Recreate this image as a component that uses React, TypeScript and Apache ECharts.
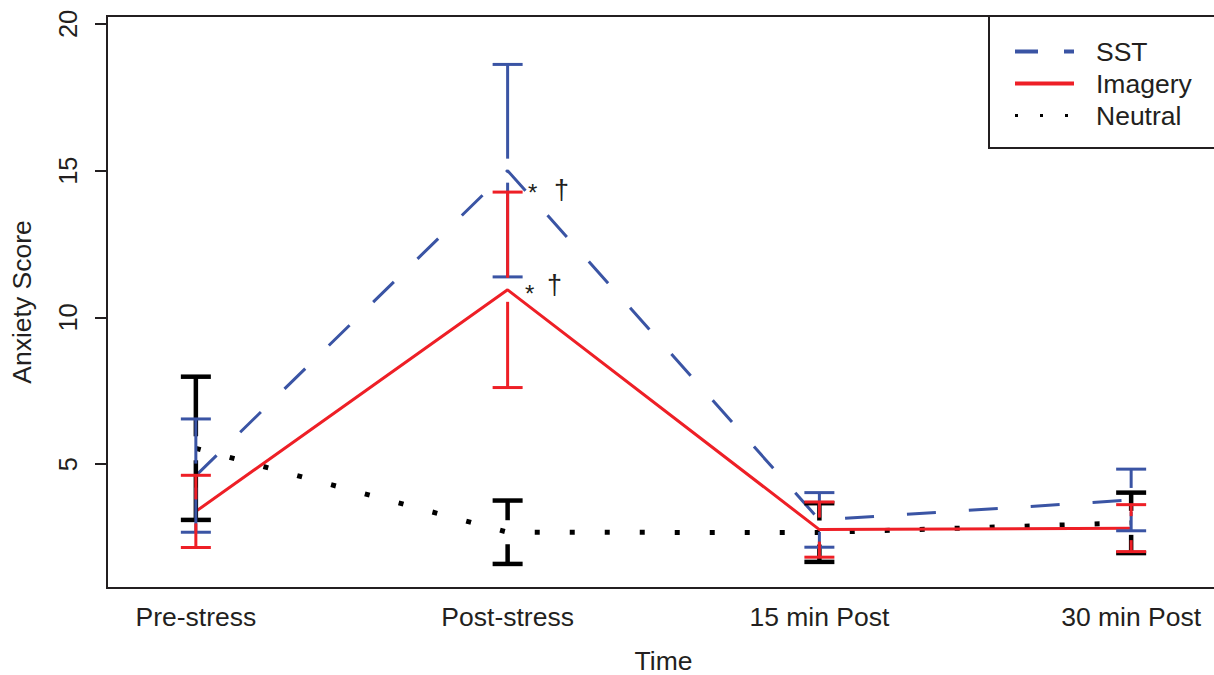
import React, { useEffect, useRef } from "react";
import * as echarts from "echarts";

const categories = ["Pre-stress", "Post-stress", "15 min Post", "30 min Post"];
const seriesNames = ["SST", "Imagery", "Neutral"];
const sstMean = [4.61, 15.0, 3.1, 3.78];
const sstSE = [1.93, 3.62, 0.93, 1.05];
const imageryMean = [3.39, 10.94, 2.77, 2.82];
const imagerySE = [1.23, 3.33, 0.94, 0.8];
const neutralMean = [5.54, 2.68, 2.67, 3.0];
const neutralSE = [2.44, 1.08, 1.0, 1.03];
const yTicks = [5, 10, 15, 20];
const xTicks = [1, 2, 3, 4];
const annotationMarks = ["*", "\u2020"];

const FONT = "'Liberation Sans', Arial, Helvetica, sans-serif";
const BLUE = "#3A54A4";
const RED = "#EE1F26";
const BLACK = "#000000";
const TEXT = "#231F20";

function errorBars(name: string, means: number[], ses: number[], color: string, width: number, z: number) {
  return {
    type: "custom",
    name: name + " SE",
    z,
    silent: true,
    encode: { x: 0, y: 1 },
    data: means.map((m, i) => [xTicks[i], m, ses[i]]),
    renderItem: (params: any, api: any) => {
      const x = api.value(0);
      const m = api.value(1);
      const se = api.value(2);
      const pm = api.coord([x, m]);
      const ph = api.coord([x, m + se]);
      const pl = api.coord([x, m - se]);
      const gap = 12;
      const half = 15;
      const style = { stroke: color, lineWidth: width, fill: null, lineCap: "butt" };
      const children: any[] = [];
      if (pm[1] - gap > ph[1]) {
        children.push({ type: "line", shape: { x1: pm[0], y1: pm[1] - gap, x2: pm[0], y2: ph[1] }, style });
      }
      if (pm[1] + gap < pl[1]) {
        children.push({ type: "line", shape: { x1: pm[0], y1: pm[1] + gap, x2: pm[0], y2: pl[1] }, style });
      }
      children.push({ type: "line", shape: { x1: pm[0] - half, y1: ph[1], x2: pm[0] + half, y2: ph[1] }, style });
      children.push({ type: "line", shape: { x1: pm[0] - half, y1: pl[1], x2: pm[0] + half, y2: pl[1] }, style });
      return { type: "group", children };
    },
  };
}

export default function App() {
  const ref = useRef<HTMLDivElement>(null);
  useEffect(() => {
    if (!ref.current) return;
    const chart = echarts.init(ref.current, null, { renderer: "svg" });
    const toPairs = (arr: number[]) => arr.map((v, i) => [xTicks[i], v]);
    const hiddenSymbol = { color: "transparent", borderColor: "transparent", borderWidth: 0, opacity: 0 };
    const option: any = {
      animation: false,
      backgroundColor: "#ffffff",
      textStyle: { fontFamily: FONT },
      grid: {
        left: 107,
        top: 16,
        width: 1113,
        height: 572,
        outerBoundsMode: "none",
        containLabel: false,
        show: true,
        borderColor: "#231F20",
        borderWidth: 2,
        backgroundColor: "transparent",
      },
      xAxis: {
        type: "value",
        min: 0.715,
        max: 4.285,
        name: "Time",
        nameLocation: "middle",
        nameGap: 63,
        nameTextStyle: { fontSize: 26.5, lineHeight: 20, color: TEXT, fontFamily: FONT },
        axisLine: { show: false },
        axisTick: { show: false },
        splitLine: { show: false },
        axisLabel: {
          customValues: xTicks,
          formatter: (v: number) => categories[Math.round(v) - 1] ?? "",
          fontSize: 26.5,
          color: TEXT,
          fontFamily: FONT,
          margin: 15,
          hideOverlap: false,
        },
      },
      yAxis: {
        type: "value",
        min: 0.78,
        max: 20.27,
        name: "Anxiety Score",
        nameLocation: "middle",
        nameGap: 72,
        nameRotate: 90,
        nameTextStyle: { fontSize: 26.5, color: TEXT, fontFamily: FONT },
        axisLine: { show: false },
        splitLine: { show: false },
        axisTick: {
          show: true,
          customValues: yTicks,
          length: 12,
          lineStyle: { color: "#231F20", width: 2 },
        },
        axisLabel: {
          customValues: yTicks,
          rotate: 90,
          fontSize: 25.5,
          color: TEXT,
          fontFamily: FONT,
          margin: 26,
        },
      },
      legend: {
        orient: "vertical",
        left: 989,
        top: 16,
        padding: [22, 40, 19, 24],
        itemGap: 5,
        itemWidth: 59,
        itemHeight: 24,
        borderColor: "#231F20",
        borderWidth: 2,
        borderRadius: 0,
        backgroundColor: "#ffffff",
        z: 10,
        selectedMode: false,
        itemStyle: hiddenSymbol,
        textStyle: { fontSize: 26.5, color: TEXT, fontFamily: FONT, padding: [0, 0, 0, 17] },
        data: [
          { name: "SST", itemStyle: hiddenSymbol, lineStyle: { color: BLUE, width: 4, type: [23, 26], cap: "butt" } },
          { name: "Imagery", itemStyle: hiddenSymbol, lineStyle: { color: RED, width: 4, type: "solid" } },
          { name: "Neutral", itemStyle: hiddenSymbol, lineStyle: { color: BLACK, width: 3, type: [3, 22], cap: "butt" } },
        ],
      },
      series: [
        {
          type: "line",
          name: seriesNames[2],
          data: toPairs(neutralMean),
          symbol: "none",
          z: 2,
          lineStyle: { color: BLACK, width: 5, type: [5, 30], cap: "butt" },
          itemStyle: { color: BLACK },
        },
        {
          type: "line",
          name: seriesNames[0],
          data: toPairs(sstMean),
          symbol: "none",
          z: 3,
          lineStyle: { color: BLUE, width: 3, type: [29, 33], cap: "butt" },
          itemStyle: { color: BLUE },
        },
        {
          type: "line",
          name: seriesNames[1],
          data: toPairs(imageryMean),
          symbol: "none",
          z: 4,
          lineStyle: { color: RED, width: 3, type: "solid" },
          itemStyle: { color: RED },
        },
        errorBars("Neutral", neutralMean, neutralSE, BLACK, 4.5, 5),
        errorBars("SST", sstMean, sstSE, BLUE, 3, 6),
        errorBars("Imagery", imageryMean, imagerySE, RED, 3, 7),
        {
          type: "custom",
          name: "annotations",
          z: 8,
          silent: true,
          encode: { x: 0, y: 1 },
          data: [
            [xTicks[1], sstMean[1], 0],
            [xTicks[1], imageryMean[1], 1],
          ],
          renderItem: (params: any, api: any) => {
            const p = api.coord([api.value(0), api.value(1)]);
            const which = api.value(2);
            const star = which === 0 ? [25, 17] : [22, -1];
            const dag = which === 0 ? [54, 21] : [47, -3];
            const base = { fontFamily: FONT, fill: TEXT, align: "center", verticalAlign: "middle" };
            return {
              type: "group",
              children: [
                { type: "text", style: { ...base, fontSize: 24, text: annotationMarks[0], x: p[0] + star[0], y: p[1] + star[1] + 5 } },
                { type: "text", style: { ...base, fontSize: 27, text: annotationMarks[1], x: p[0] + dag[0], y: p[1] + dag[1] - 2 } },
              ],
            };
          },
        },
      ],
    };
    chart.setOption(option);
    return () => chart.dispose();
  }, []);
  return <div ref={ref} style={{ position: "absolute", left: 0, top: 0, width: 1214, height: 675 }} />;
}
